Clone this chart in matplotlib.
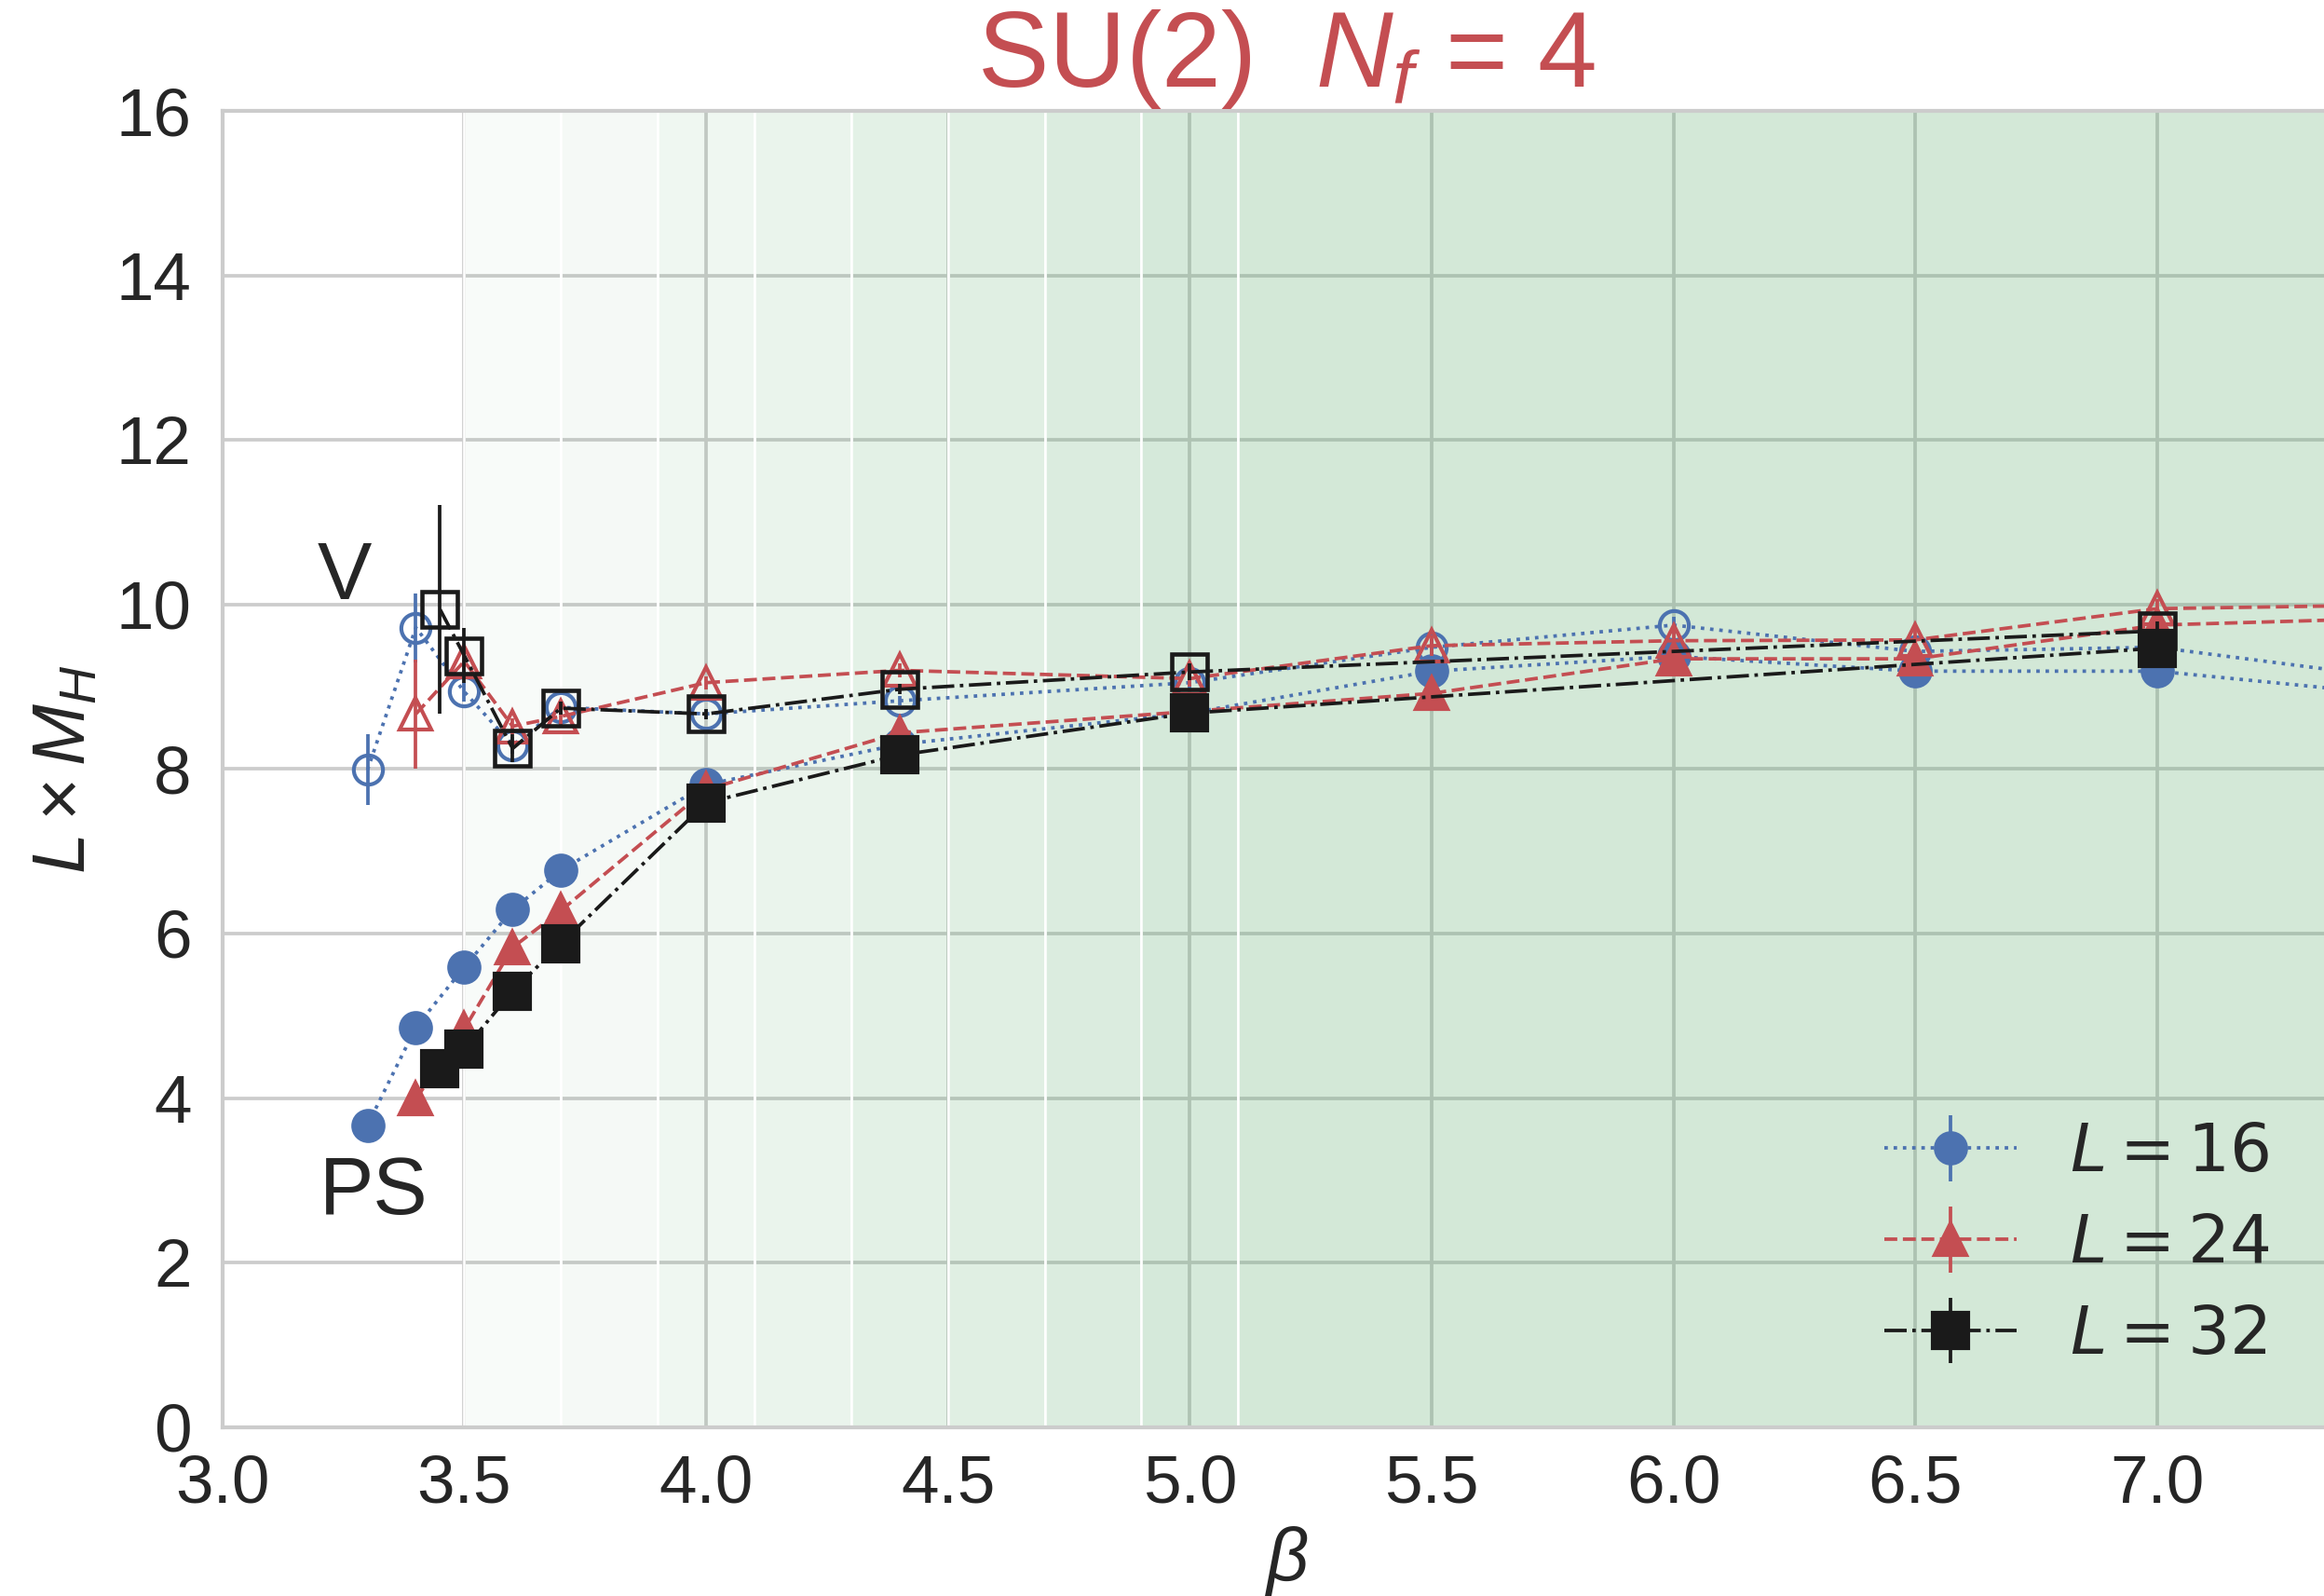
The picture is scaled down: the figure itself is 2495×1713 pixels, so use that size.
import matplotlib
matplotlib.use('Agg')
import matplotlib.pyplot as plt
from matplotlib.colors import to_rgb

# ---------------- data ----------------
beta16 = [3.3, 3.4, 3.5, 3.6, 3.7, 4.0, 4.4, 5.0, 5.5, 6.0, 6.5, 7.0, 8.0]
ps16 = [3.67, 4.86, 5.59, 6.29, 6.77, 7.81, 8.30, 8.68, 9.19, 9.37, 9.19, 9.19, 8.61]
ps16_err = [0.05, 0.05, 0.05, 0.05, 0.05, 0.05, 0.05, 0.05, 0.08, 0.08, 0.08, 0.08, 0.08]
v16 = [7.99, 9.72, 8.94, 8.29, 8.75, 8.67, 8.83, 9.05, 9.48, 9.75, 9.43, 9.48, 8.72]
v16_err = [0.43, 0.42, 0.12, 0.10, 0.08, 0.06, 0.06, 0.10, 0.10, 0.10, 0.10, 0.10, 0.10]

beta24 = [3.4, 3.5, 3.6, 3.7, 4.0, 4.4, 5.0, 5.5, 6.0, 6.5, 7.0, 8.0]
ps24 = [3.99, 4.84, 5.83, 6.28, 7.75, 8.44, 8.70, 8.92, 9.34, 9.34, 9.75, 9.92]
ps24_err = [0.05, 0.05, 0.05, 0.05, 0.05, 0.05, 0.05, 0.08, 0.08, 0.08, 0.08, 0.08]
v24 = [8.67, 9.31, 8.52, 8.64, 9.05, 9.20, 9.10, 9.50, 9.56, 9.57, 9.95, 10.04]
v24_err = [0.66, 0.15, 0.10, 0.10, 0.08, 0.08, 0.10, 0.12, 0.15, 0.15, 0.12, 0.12]

beta32 = [3.45, 3.5, 3.6, 3.7, 4.0, 4.4, 5.0, 7.0]
ps32 = [4.36, 4.59, 5.30, 5.88, 7.59, 8.17, 8.68, 9.47]
ps32_err = [0.05, 0.05, 0.05, 0.05, 0.05, 0.05, 0.05, 0.08]
v32 = [9.94, 9.38, 8.25, 8.74, 8.67, 8.97, 9.18, 9.68]
v32_err = [1.27, 0.33, 0.17, 0.08, 0.06, 0.06, 0.10, 0.12]

band_edges = [3.5, 3.7, 3.9, 4.1, 4.3, 4.5, 4.7, 4.9, 5.1, 9.0]
band_alpha = [0.04, 0.06, 0.09, 0.12, 0.16, 0.18, 0.21, 0.245, 0.26]

xticks = [3.0, 3.5, 4.0, 4.5, 5.0, 5.5, 6.0, 6.5, 7.0]
yticks = [0, 2, 4, 6, 8, 10, 12, 14, 16]

# ---------------- style ----------------
BLUE = '#4C72B0'
RED = '#C44E52'
BLACK = '#1a1a1a'
GREEN = '#55A868'
DARK = '#262626'

plt.rcParams.update({
    'font.family': ['Liberation Sans', 'DejaVu Sans'],
    'mathtext.fontset': 'dejavusans',
    'mathtext.rm': 'Liberation Sans',
    'mathtext.it': 'Liberation Sans:italic',
    'mathtext.bf': 'Liberation Sans:bold',
    'mathtext.sf': 'Liberation Sans',
    'axes.edgecolor': '0.8',
    'axes.linewidth': 1.0,
    'grid.color': '0.8',
    'grid.linewidth': 0.9,
    'axes.axisbelow': True,
    'xtick.major.size': 0,
    'ytick.major.size': 0,
    'xtick.major.pad': 7,
    'ytick.major.pad': 8,
    'text.color': DARK,
    'xtick.color': DARK,
    'ytick.color': DARK,
    'axes.labelcolor': DARK,
})

fig = plt.figure(figsize=(2495 / 300, 1713 / 300), dpi=300)
ax = fig.add_axes([0.0957, 0.1059, 0.9158, 0.8245])

ax.grid(True)

g = to_rgb(GREEN)
for a, b, al in zip(band_edges[:-1], band_edges[1:], band_alpha):
    ax.axvspan(a, b, facecolor=(*g, al), edgecolor='white', linewidth=0.6, zorder=0.8)

common = dict(capsize=0, elinewidth=0.9, lw=0.9)

# L = 16
ax.errorbar(beta16, ps16, yerr=ps16_err, fmt='o', ls=':', color=BLUE, ms=7.8,
            label=r'$L = 16$', zorder=3, **common)
ax.errorbar(beta16, v16, yerr=v16_err, fmt='o', ls=':', color=BLUE, ms=7.5,
            mfc='none', mew=1.0, zorder=3, **common)
# L = 24
ax.errorbar(beta24, ps24, yerr=ps24_err, fmt='^', ls='--', color=RED, ms=8,
            label=r'$L = 24$', zorder=4, **common)
ax.errorbar(beta24, v24, yerr=v24_err, fmt='^', ls='--', color=RED, ms=8,
            mfc='none', mew=1.0, zorder=4, **common)
# L = 32
ax.errorbar(beta32, ps32, yerr=ps32_err, fmt='s', ls='-.', color=BLACK, ms=9,
            label=r'$L = 32$', zorder=5, **common)
ax.errorbar(beta32, v32, yerr=v32_err, fmt='s', ls='-.', color=BLACK, ms=9,
            mfc='none', mew=1.1, zorder=5, **common)

ax.text(3.252, 10.32, 'V', fontsize=21, ha='center', va='center')
ax.text(3.312, 2.85, 'PS', fontsize=21, ha='center', va='center')

ax.set_xlim(3.0, 7.4)
ax.set_ylim(0, 16)
ax.set_xticks(xticks)
ax.set_xticklabels([f'{t:.1f}' for t in xticks])
ax.set_yticks(yticks)
ax.tick_params(labelsize=17.5)

ax.set_xlabel(r'$\beta$', fontsize=19, math_fontfamily='custom', labelpad=2)
ax.set_ylabel(r'$L \times M_H$', fontsize=19, math_fontfamily='custom', labelpad=4)
ax.set_title(r'SU(2)  $N_f$ = 4', fontsize=27.5, color=RED, math_fontfamily='custom', pad=5)

for s in ax.spines.values():
    s.set_zorder(2.5)

ax.legend(loc='lower right', bbox_to_anchor=(0.9896, 0.0), frameon=False, fontsize=17,
          labelspacing=0.45, handlelength=2.0, handletextpad=0.8)

fig.savefig('out.png', dpi=300)
